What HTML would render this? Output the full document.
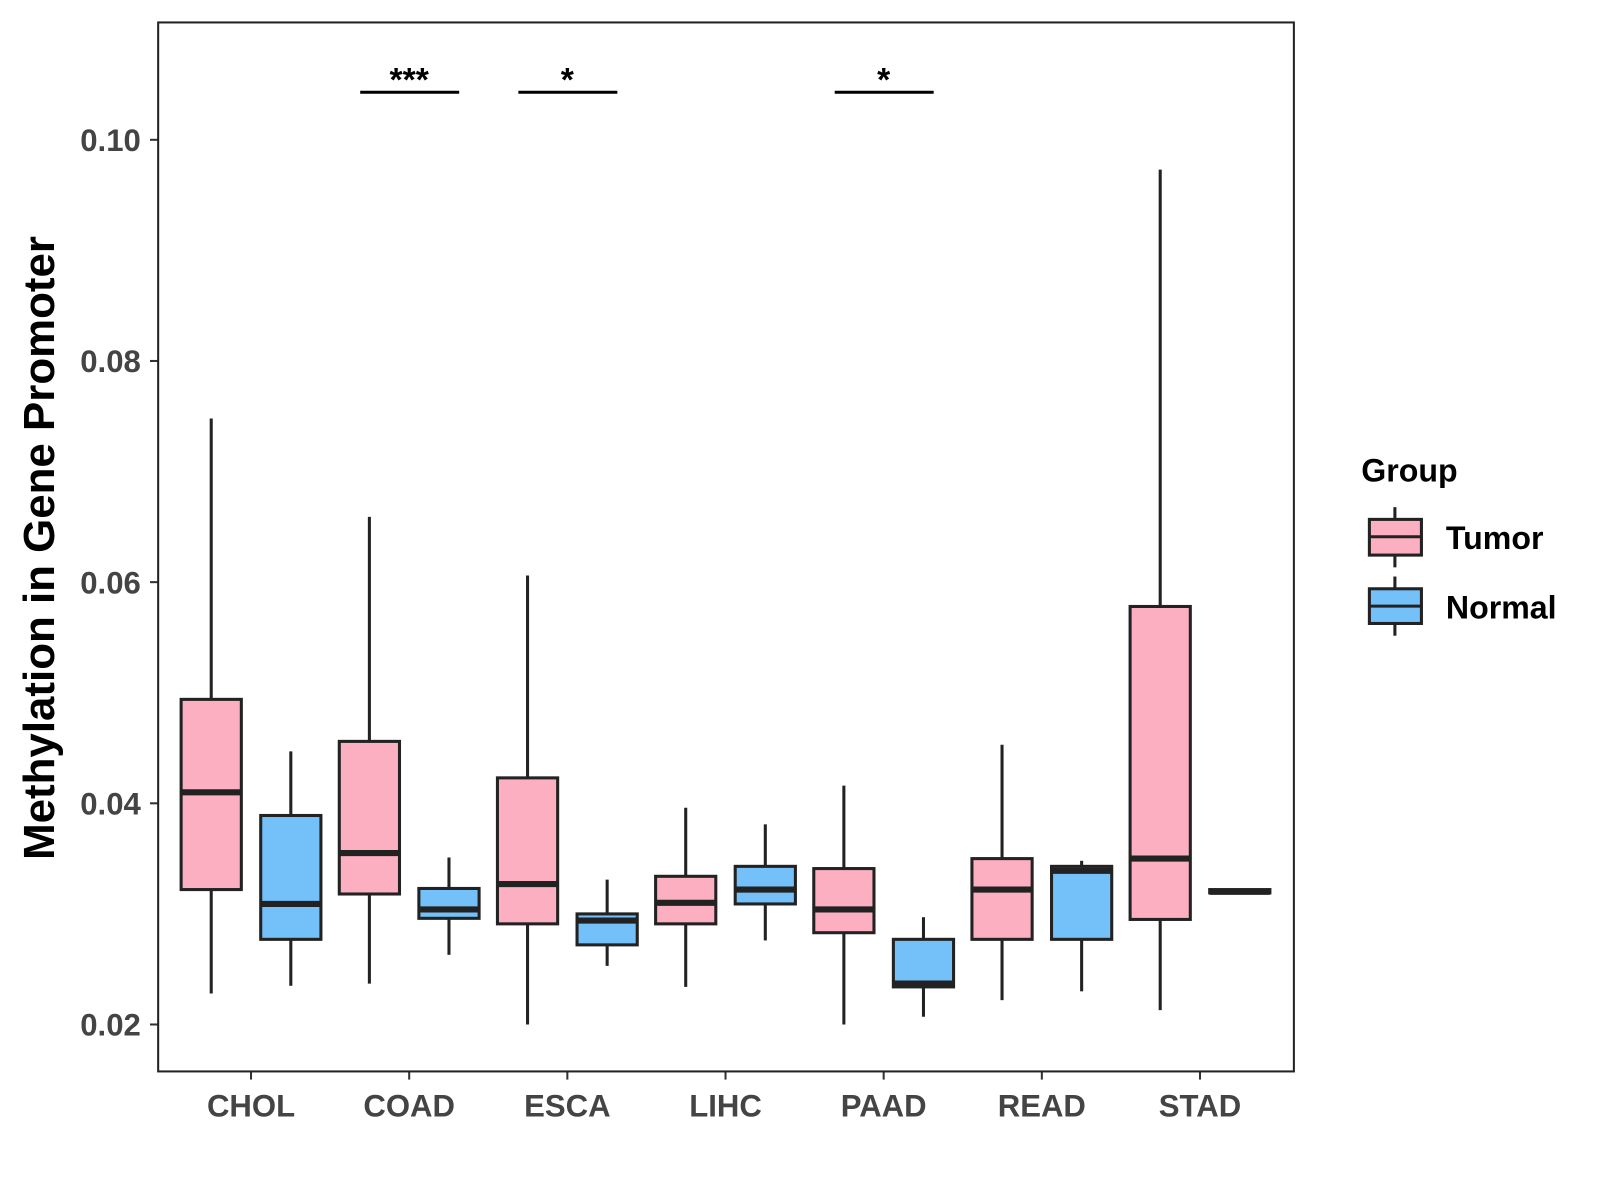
<!DOCTYPE html>
<html><head><meta charset="utf-8"><style>
html,body{margin:0;padding:0;background:#fff;}
svg{display:block;font-family:"Liberation Sans",sans-serif;font-weight:bold;}
</style></head><body>
<svg id="chart" width="1600" height="1200" viewBox="0 0 1568 1176">
<rect x="0" y="0" width="1568" height="1176" fill="#fff"/>
<g id="plot"></g>
<rect x="155" y="22" width="1113" height="1028" fill="none" stroke="#222" stroke-width="2"/>
<text transform="translate(53,537) rotate(-90)" text-anchor="middle" font-size="43" fill="#000">Methylation in Gene Promoter</text>
<g>
<text x="1334" y="472" font-size="31.5" fill="#000">Group</text>
<g>
<line x1="1367" y1="497" x2="1367" y2="556" stroke="#222" stroke-width="3"/>
<rect x="1342" y="509" width="51" height="35" fill="#FBAFC1" stroke="#222" stroke-width="3"/>
<line x1="1342" y1="526" x2="1393" y2="526" stroke="#222" stroke-width="3"/>
<text x="1417" y="538" font-size="31.5" fill="#000">Tumor</text>
</g>
<g>
<line x1="1367" y1="565" x2="1367" y2="623" stroke="#222" stroke-width="3"/>
<rect x="1342" y="577" width="51" height="34" fill="#74C0F8" stroke="#222" stroke-width="3"/>
<line x1="1342" y1="594" x2="1393" y2="594" stroke="#222" stroke-width="3"/>
<text x="1417" y="606" font-size="31.5" fill="#000">Normal</text>
</g>
</g>
</svg>
<script>
const categories = ["CHOL","COAD","ESCA","LIHC","PAAD","READ","STAD"];
const tumorMin = [0.0228,0.0237,0.0200,0.0234,0.0200,0.0222,0.0213];
const tumorQ1  = [0.0322,0.0318,0.0291,0.0291,0.0283,0.0277,0.0295];
const tumorMed = [0.0410,0.0355,0.0327,0.0310,0.0304,0.0322,0.0350];
const tumorQ3  = [0.0494,0.0456,0.0423,0.0334,0.0341,0.0350,0.0578];
const tumorMax = [0.0748,0.0659,0.0606,0.0396,0.0416,0.0453,0.0973];
const normalMin = [0.0235,0.0263,0.0253,0.0276,0.0207,0.0230,0.0320];
const normalQ1  = [0.0277,0.0296,0.0272,0.0309,0.0234,0.0277,0.0319];
const normalMed = [0.0309,0.0304,0.0294,0.0322,0.0237,0.0339,0.0320];
const normalQ3  = [0.0389,0.0323,0.0300,0.0343,0.0277,0.0343,0.0322];
const normalMax = [0.0447,0.0351,0.0331,0.0381,0.0297,0.0348,0.0320];
const yTicks = [0.02,0.04,0.06,0.08,0.10];
const yTickLabels = ["0.02","0.04","0.06","0.08","0.10"];
const sigCategories = ["COAD","ESCA","PAAD"];
const sigLabels = ["***","*","*"];
const sigLevel = 0.1043;

const NS="http://www.w3.org/2000/svg";
const g=document.getElementById('plot');
function y(v){return 1004-(v-0.02)*10837.5;}
function x(i){return 246+i*155;}
function mk(t,a,p){const e=document.createElementNS(NS,t);for(const k in a)e.setAttribute(k,a[k]);(p||g).appendChild(e);return e;}

yTicks.forEach((t,i)=>{
  const gg=mk('g',{});
  
  
  mk('line',{x1:147,x2:155,y1:y(t),y2:y(t),stroke:'#333','stroke-width':2},gg);
  const tx=mk('text',{x:138,y:y(t)+11,'text-anchor':'end','font-size':30.5,fill:'#444'},gg);
  tx.textContent=yTickLabels[i];
});
categories.forEach((c,i)=>{
  const gg=mk('g',{});
  
  
  mk('line',{x1:x(i),x2:x(i),y1:1050,y2:1058,stroke:'#333','stroke-width':2},gg);
  const tx=mk('text',{x:x(i),y:1094,'text-anchor':'middle','font-size':30.5,fill:'#444'},gg);
  tx.textContent=c;
});
function box(cx,mn,q1,md,q3,mx,fill,name){
  const gg=mk('g',{});
  
  
  mk('line',{x1:cx,x2:cx,y1:y(mx),y2:y(q3),stroke:'#222','stroke-width':3},gg);
  mk('line',{x1:cx,x2:cx,y1:y(q1),y2:y(mn),stroke:'#222','stroke-width':3},gg);
  mk('rect',{x:cx-29.5,y:y(q3),width:59,height:Math.max(y(q1)-y(q3),1),fill:fill,stroke:'#222','stroke-width':3},gg);
  mk('line',{x1:cx-29.5,x2:cx+29.5,y1:y(md),y2:y(md),stroke:'#222','stroke-width':6},gg);
}
categories.forEach((c,i)=>{
  box(x(i)-39,tumorMin[i],tumorQ1[i],tumorMed[i],tumorQ3[i],tumorMax[i],'#FBAFC1','box-tumor-'+c.toLowerCase());
  box(x(i)+39,normalMin[i],normalQ1[i],normalMed[i],normalQ3[i],normalMax[i],'#74C0F8','box-normal-'+c.toLowerCase());
});
sigCategories.forEach((c,k)=>{
  const i=categories.indexOf(c);
  const gg=mk('g',{});
  
  
  mk('line',{x1:x(i)-48,x2:x(i)+49,y1:y(sigLevel),y2:y(sigLevel),stroke:'#000','stroke-width':3},gg);
  const tx=mk('text',{x:x(i),y:y(sigLevel)-1,'text-anchor':'middle','font-size':33,fill:'#000'},gg);
  tx.textContent=sigLabels[k];
});
</script>
</body></html>
